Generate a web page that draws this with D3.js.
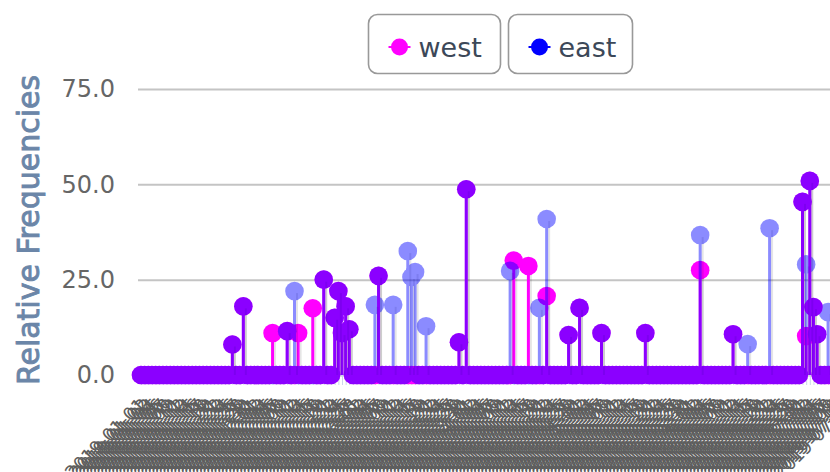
<!DOCTYPE html>
<html><head><meta charset="utf-8">
<script src="https://cdn.jsdelivr.net/npm/d3@7"></script>
<style>html,body{margin:0;padding:0;background:#fff;overflow:hidden}</style>
</head><body><svg id="chart" width="830" height="472"></svg>
<script>
const categories = [
"2019-01-01","2019-01-02","2019-01-03","2019-01-04","2019-01-05","2019-01-06","2019-01-07","2019-01-08","2019-01-09","2019-01-10","2019-01-11","2019-01-12","2019-01-13","2019-01-14","2019-01-15","2019-01-16","2019-01-17","2019-01-18","2019-01-19","2019-01-20","2019-01-21","2019-01-22","2019-01-23","2019-01-24","2019-01-25","2019-01-26","2019-01-27","2019-01-28","2019-01-29","2019-01-30","2019-01-31",
"2019-02-01","2019-02-02","2019-02-03","2019-02-04","2019-02-05","2019-02-06","2019-02-07","2019-02-08","2019-02-09","2019-02-10","2019-02-11","2019-02-12","2019-02-13","2019-02-14","2019-02-15","2019-02-16","2019-02-17","2019-02-18","2019-02-19","2019-02-20","2019-02-21","2019-02-22","2019-02-23","2019-02-24","2019-02-25","2019-02-26","2019-02-27","2019-02-28",
"2019-03-01","2019-03-02","2019-03-03","2019-03-04","2019-03-05","2019-03-06","2019-03-07","2019-03-08","2019-03-09","2019-03-10","2019-03-11","2019-03-12","2019-03-13","2019-03-14","2019-03-15","2019-03-16","2019-03-17","2019-03-18","2019-03-19","2019-03-20","2019-03-21","2019-03-22","2019-03-23","2019-03-24","2019-03-25","2019-03-26","2019-03-27","2019-03-28","2019-03-29","2019-03-30","2019-03-31",
"2019-04-01","2019-04-02","2019-04-03","2019-04-04","2019-04-05","2019-04-06","2019-04-07","2019-04-08","2019-04-09","2019-04-10","2019-04-11","2019-04-12","2019-04-13","2019-04-14","2019-04-15","2019-04-16","2019-04-17","2019-04-18","2019-04-19","2019-04-20","2019-04-21","2019-04-22","2019-04-23","2019-04-24","2019-04-25","2019-04-26","2019-04-27","2019-04-28","2019-04-29","2019-04-30",
"2019-05-01","2019-05-02","2019-05-03","2019-05-04","2019-05-05","2019-05-06","2019-05-07","2019-05-08","2019-05-09","2019-05-10","2019-05-11","2019-05-12","2019-05-13","2019-05-14","2019-05-15","2019-05-16","2019-05-17","2019-05-18","2019-05-19","2019-05-20","2019-05-21","2019-05-22","2019-05-23","2019-05-24","2019-05-25","2019-05-26","2019-05-27","2019-05-28","2019-05-29","2019-05-30","2019-05-31",
"2019-06-01","2019-06-02","2019-06-03","2019-06-04","2019-06-05","2019-06-06","2019-06-07","2019-06-08","2019-06-09","2019-06-10","2019-06-11","2019-06-12","2019-06-13","2019-06-14","2019-06-15","2019-06-16","2019-06-17","2019-06-18","2019-06-19","2019-06-20","2019-06-21","2019-06-22","2019-06-23","2019-06-24","2019-06-25","2019-06-26","2019-06-27","2019-06-28","2019-06-29","2019-06-30",
"2019-07-01","2019-07-02","2019-07-03","2019-07-04","2019-07-05","2019-07-06","2019-07-07","2019-07-08","2019-07-09","2019-07-10","2019-07-11","2019-07-12","2019-07-13","2019-07-14"
];

const west = [
0,0,0,0,0,0,0,0,0,0,0,0,0,0,0,
0,0,0,0,0,0,0,0,0,0,8,0,0,18,0,
0,0,0,0,0,0,11,0,0,0,11.5,0,0,11,0,
0,0,17.5,0,0,25,0,0,15,22,11,18,12,0,0,
0,0,0,0,0,26,0,0,0,0,0,0,0,0,0,
0,0,0,0,0,0,0,0,0,0,0,0,8.6,0,48.7,
0,0,0,0,0,0,0,0,0,0,0,0,30,0,0,
0,28.6,0,0,0,0,20.7,0,0,0,0,0,10.5,0,0,
17.6,0,0,0,0,0,11,0,0,0,0,0,0,0,0,
0,0,0,11,0,0,0,0,0,0,0,0,0,0,0,
0,0,0,27.5,0,0,0,0,0,0,0,0,10.7,0,0,
0,0,0,0,0,0,0,0,0,0,0,0,0,0,0,
0,45.4,10.2,50.9,17.8,10.7,0,0,0,0,0,0,0,0,0
];

const east = [
0,0,0,0,0,0,0,0,0,0,0,0,0,0,0,
0,0,0,0,0,0,0,0,0,0,8,0,0,18,0,
0,0,0,0,0,0,0,0,0,0,11.5,0,22,0,0,
0,0,0,0,0,25,0,0,15,22,11,18,12,0,0,
0,0,0,0,18.4,26,0,0,0,18.4,0,0,0,32.5,25.7,
27,0,0,12.8,0,0,0,0,0,0,0,0,8.6,0,48.7,
0,0,0,0,0,0,0,0,0,0,0,27.3,0,0,0,
0,0,0,0,17.6,0,40.9,0,0,0,0,0,10.5,0,0,
17.6,0,0,0,0,0,11,0,0,0,0,0,0,0,0,
0,0,0,11,0,0,0,0,0,0,0,0,0,0,0,
0,0,0,36.7,0,0,0,0,0,0,0,0,10.7,0,0,
0,8.1,0,0,0,0,0,38.5,0,0,0,0,0,0,0,
0,45.4,29,50.9,17.8,10.7,0,0,16.5,0,0,0,0,0,0
];

const yTicks = [0, 25, 50, 75];
const seriesNames = ["west", "east"];
const seriesColors = ["#ff00ff", "#0000ff"];
const seriesOpacity = [1, 0.45];
const yTitle = "Relative Frequencies";

const svg = d3.select("#chart");
const x = d3.scalePoint().domain(categories).range([141, 850]);
const y = d3.scaleLinear().domain([0, 75]).range([375, 89]);
const R = 9.3;

// y axis with gridlines
const yAxis = svg.append("g").attr("transform", "translate(138,0)")
  .call(d3.axisLeft(y).tickValues(yTicks).tickFormat(d3.format(".1f")).tickSize(-700).tickPadding(23));
yAxis.select(".domain").remove();
yAxis.selectAll(".tick line").attr("stroke", "#c4c4c4").attr("stroke-width", 2);
yAxis.selectAll(".tick text").attr("fill", "#666").attr("font-family", "DejaVu Sans").attr("font-size", 24);

// y title
svg.append("text").attr("transform", "translate(28,230) rotate(-90)")
  .attr("text-anchor", "middle").attr("dominant-baseline", "central")
  .attr("font-family", "DejaVu Sans").attr("font-size", 30).attr("fill", "#6b86a8")
  .attr("stroke", "#6b86a8").attr("stroke-width", 0.9)
  .text(yTitle);

// x axis
const xAxis = svg.append("g").attr("transform", "translate(0,375)")
  .call(d3.axisBottom(x).tickSize(10));
xAxis.select(".domain").attr("stroke", "#ccd6eb");
xAxis.selectAll(".tick line").attr("stroke", "#ccd6eb");
xAxis.selectAll(".tick text")
  .attr("y", 0).attr("dy", 0).attr("x", 0)
  .attr("transform", "translate(5,31) rotate(-45)")
  .attr("text-anchor", "end")
  .attr("fill", "#5e5e5e").attr("font-family", "DejaVu Sans").attr("font-size", 18);

// series
const seriesData = [west, east];
seriesData.forEach((vals, si) => {
  const pts = vals.map((v, i) => ({c: categories[i], v}));
  // stem shadows
  svg.append("g").selectAll("line").data(pts.filter(d => d.v > 0)).join("line")
    .attr("x1", d => x(d.c) + 2.5).attr("x2", d => x(d.c) + 2.5)
    .attr("y1", y(0)).attr("y2", d => y(d.v) + 2)
    .attr("stroke", "#000").attr("stroke-opacity", 0.1).attr("stroke-width", 2);
  const g = svg.append("g").attr("opacity", seriesOpacity[si]);
  g.selectAll("line").data(pts).join("line")
    .attr("x1", d => x(d.c)).attr("x2", d => x(d.c))
    .attr("y1", y(0)).attr("y2", d => y(d.v))
    .attr("stroke", seriesColors[si]).attr("stroke-width", 3);
  g.selectAll("circle").data(pts).join("circle")
    .attr("cx", d => x(d.c)).attr("cy", d => y(d.v)).attr("r", R)
    .attr("fill", seriesColors[si]);
});

// legend
const legendBoxes = [{x: 368.5, w: 132}, {x: 508.5, w: 124}];
seriesNames.forEach((name, i) => {
  const b = legendBoxes[i];
  const lg = svg.append("g");
  lg.append("rect").attr("x", b.x).attr("y", 14.5).attr("width", b.w).attr("height", 59)
    .attr("rx", 9).attr("fill", "#fff").attr("stroke", "#999").attr("stroke-width", 1.6);
  const cx = b.x + 31;
  lg.append("line").attr("x1", cx - 11).attr("x2", cx + 11).attr("y1", 47).attr("y2", 47)
    .attr("stroke", seriesColors[i]).attr("stroke-width", 2);
  lg.append("circle").attr("cx", cx).attr("cy", 47).attr("r", 8.5).attr("fill", seriesColors[i]);
  lg.append("text").attr("x", cx + 19).attr("y", 47).attr("dominant-baseline", "central")
    .attr("font-family", "DejaVu Sans").attr("font-size", 27).attr("fill", "#3c4858")
    .text(name);
});
</script></body></html>
